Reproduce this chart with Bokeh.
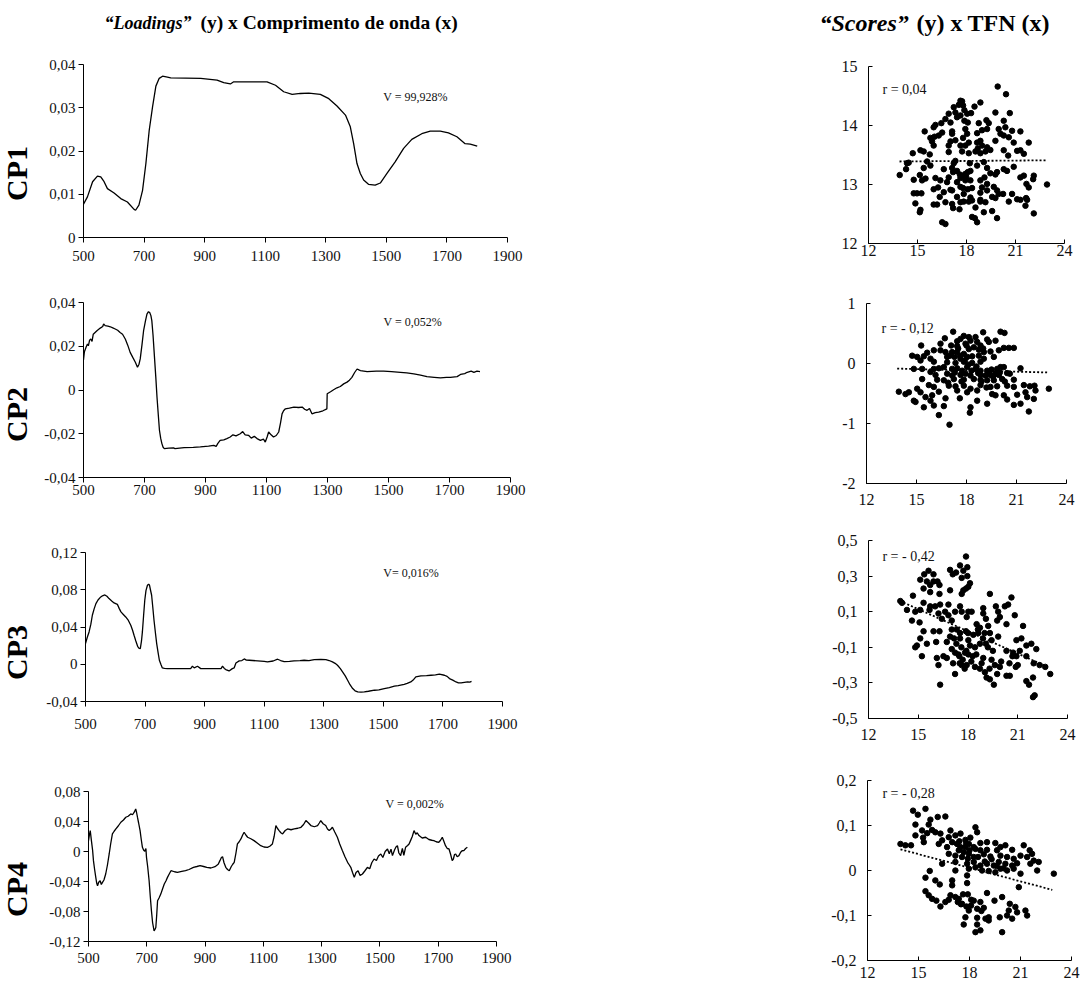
import math
from bokeh.plotting import figure
from bokeh.models import Range1d, FixedTicker, Label
from bokeh.layouts import column, row
from bokeh.core.properties import value
from bokeh.embed import file_html
from bokeh.resources import INLINE

# ---------------- data: loadings (wavelength nm, loading) ----------------
cp1 = [(500,0.0077),(513,0.0094),(530,0.0129),(546,0.0142),(557,0.0140),(568,0.0129),(579,0.0113),(601,0.0103),
       (623,0.0090),(645,0.0082),(667,0.0065),(672,0.0063),(683,0.0075),(695,0.0109),(706,0.0171),(717,0.0248),
       (728,0.0302),(739,0.0350),(750,0.0368),(761,0.0373),(777,0.0371),(788,0.0369),(887,0.0368),(941,0.0364),
       (963,0.0358),(985,0.0355),(996,0.0360),(1106,0.0360),(1134,0.0352),(1161,0.0337),(1189,0.0331),(1216,0.0333),
       (1244,0.0334),(1282,0.0331),(1310,0.0321),(1337,0.0304),(1365,0.0283),(1381,0.0256),(1392,0.0217),(1403,0.0171),
       (1414,0.0148),(1425,0.0133),(1441,0.0123),(1463,0.0121),(1480,0.0126),(1502,0.0148),(1529,0.0175),(1557,0.0206),
       (1584,0.0227),(1617,0.0240),(1645,0.0246),(1678,0.0246),(1705,0.0242),(1733,0.0233),(1760,0.0217),(1777,0.0216),
       (1800,0.0211)]
cp2 = [(500,0.0137),(503,0.0175),(509,0.0198),(513,0.0210),(516,0.0202),(520,0.0228),(524,0.0233),(528,0.0222),
       (532,0.0255),(538,0.0263),(545,0.0272),(555,0.0283),(563,0.0290),(566,0.0302),(571,0.0294),(580,0.0292),
       (588,0.0289),(596,0.0284),(604,0.0279),(612,0.0273),(620,0.0263),(628,0.0255),(637,0.0233),(645,0.0205),
       (653,0.0172),(662,0.0148),(670,0.0127),(677,0.0104),(682,0.0118),(686,0.0142),(692,0.0210),(697,0.0271),
       (703,0.0315),(708,0.0347),(713,0.0358),(717,0.0354),(721,0.0340),(724,0.0317),(728,0.0250),(732,0.0165),
       (737,0.0060),(741,-0.0033),(745,-0.0110),(749,-0.0184),(753,-0.0220),(757,-0.0245),(761,-0.0262),(765,-0.0268),
       (780,-0.0266),(795,-0.0265),(800,-0.0268),(830,-0.0263),(860,-0.0262),(883,-0.0260),(910,-0.0257),(927,-0.0253),
       (935,-0.0258),(940,-0.0245),(948,-0.0230),(960,-0.0228),(970,-0.0222),(981,-0.0215),(990,-0.0205),(1000,-0.0210),
       (1014,-0.0200),(1022,-0.0190),(1030,-0.0205),(1041,-0.0207),(1050,-0.0220),(1060,-0.0212),(1069,-0.0222),
       (1080,-0.0230),(1090,-0.0225),(1096,-0.0238),(1102,-0.0215),(1107,-0.0192),(1115,-0.0205),(1123,-0.0215),
       (1132,-0.0208),(1140,-0.0192),(1146,-0.0150),(1151,-0.0109),(1156,-0.0095),(1162,-0.0086),(1175,-0.0083),
       (1190,-0.0078),(1205,-0.0080),(1217,-0.0078),(1225,-0.0088),(1233,-0.0093),(1241,-0.0085),(1249,-0.0109),
       (1260,-0.0103),(1271,-0.0101),(1285,-0.0095),(1298,-0.0086),(1299,-0.0017),(1310,-0.0008),(1320,0.0001),
       (1331,0.0010),(1342,0.0016),(1353,0.0028),(1364,0.0036),(1372,0.0045),(1380,0.0058),(1389,0.0080),(1397,0.0096),
       (1403,0.0092),(1408,0.0089),(1430,0.0084),(1460,0.0086),(1484,0.0086),(1510,0.0084),(1539,0.0081),(1560,0.0078),
       (1583,0.0074),(1605,0.0068),(1626,0.0061),(1650,0.0058),(1670,0.0055),(1690,0.0058),(1703,0.0058),(1725,0.0061),
       (1736,0.0071),(1750,0.0075),(1758,0.0081),(1771,0.0086),(1780,0.0081),(1790,0.0086),(1800,0.0084)]
cp3 = [(500,0.0222),(506,0.0290),(512,0.0347),(518,0.0430),(523,0.0526),(529,0.0595),(535,0.0651),(542,0.0690),
       (549,0.0716),(557,0.0735),(565,0.0744),(572,0.0730),(579,0.0705),(588,0.0680),(596,0.0659),(607,0.0644),
       (613,0.0600),(619,0.0562),(627,0.0535),(635,0.0508),(644,0.0470),(652,0.0419),(658,0.0365),(663,0.0311),
       (669,0.0250),(675,0.0193),(680,0.0170),(684,0.0168),(688,0.0250),(691,0.0347),(695,0.0520),(699,0.0687),
       (703,0.0790),(708,0.0848),(712,0.0860),(715,0.0848),(718,0.0800),(722,0.0741),(726,0.0610),(730,0.0472),
       (735,0.0330),(739,0.0222),(744,0.0120),(748,0.0043),(753,0.0000),(758,-0.0039),(765,-0.0045),(775,-0.0047),
       (853,-0.0047),(859,-0.0021),(865,-0.0039),(876,-0.0021),(887,-0.0047),(955,-0.0047),(960,-0.0021),(966,-0.0045),
       (971,-0.0057),(982,-0.0072),(993,-0.0047),(999,-0.0040),(1005,0.0014),(1016,0.0036),(1025,0.0040),(1033,0.0057),
       (1040,0.0045),(1050,0.0043),(1078,0.0036),(1100,0.0030),(1111,0.0025),(1130,0.0035),(1145,0.0054),(1155,0.0040),
       (1167,0.0029),(1185,0.0030),(1200,0.0036),(1220,0.0040),(1234,0.0043),(1250,0.0040),(1268,0.0050),(1290,0.0052),
       (1307,0.0050),(1318,0.0040),(1329,0.0025),(1338,0.0010),(1346,-0.0011),(1355,-0.0045),(1363,-0.0082),
       (1372,-0.0125),(1380,-0.0172),(1388,-0.0220),(1397,-0.0261),(1405,-0.0285),(1414,-0.0297),(1425,-0.0300),
       (1436,-0.0297),(1450,-0.0290),(1470,-0.0279),(1485,-0.0275),(1503,-0.0261),(1520,-0.0250),(1537,-0.0236),
       (1550,-0.0230),(1570,-0.0215),(1580,-0.0205),(1592,-0.0190),(1600,-0.0170),(1609,-0.0136),(1626,-0.0125),
       (1645,-0.0122),(1660,-0.0118),(1675,-0.0115),(1688,-0.0107),(1705,-0.0118),(1714,-0.0130),(1722,-0.0154),
       (1733,-0.0170),(1744,-0.0190),(1752,-0.0200),(1761,-0.0200),(1772,-0.0195),(1783,-0.0190),(1790,-0.0192),
       (1796,-0.0183)]
cp4 = [(500,0.0145),(503,0.0220),(506,0.0279),(510,0.0145),(514,0.0020),(517,-0.0122),(521,-0.0240),(525,-0.0345),
       (528,-0.0420),(531,-0.0456),(535,-0.0410),(540,-0.0390),(544,-0.0440),(548,-0.0412),(553,-0.0380),(559,-0.0300),
       (565,-0.0180),(571,-0.0033),(576,0.0100),(582,0.0234),(588,0.0270),(594,0.0301),(602,0.0340),(611,0.0390),
       (620,0.0420),(628,0.0457),(636,0.0470),(645,0.0501),(651,0.0490),(657,0.0524),(662,0.0568),(665,0.0520),
       (668,0.0457),(672,0.0380),(677,0.0279),(681,0.0160),(685,0.0056),(689,0.0020),(693,0.0003),(697,0.0040),
       (699,-0.0078),(703,-0.0200),(708,-0.0390),(712,-0.0600),(716,-0.0791),(720,-0.0950),(725,-0.1058),(728,-0.1040),
       (731,-0.1014),(734,-0.0850),(737,-0.0657),(742,-0.0620),(748,-0.0568),(754,-0.0500),(760,-0.0434),(766,-0.0390),
       (771,-0.0345),(777,-0.0300),(783,-0.0256),(795,-0.0270),(805,-0.0278),(820,-0.0265),(833,-0.0256),(845,-0.0240),
       (860,-0.0211),(872,-0.0200),(883,-0.0189),(895,-0.0200),(906,-0.0211),(920,-0.0220),(934,-0.0202),(945,-0.0170),
       (951,-0.0122),(956,-0.0080),(960,-0.0069),(965,-0.0150),(971,-0.0211),(977,-0.0240),(983,-0.0256),(990,-0.0200),
       (995,-0.0170),(1000,-0.0144),(1006,-0.0020),(1011,0.0101),(1017,0.0130),(1023,0.0168),(1029,0.0220),(1034,0.0257),
       (1040,0.0220),(1046,0.0190),(1057,0.0170),(1068,0.0145),(1080,0.0110),(1091,0.0078),(1102,0.0060),(1114,0.0056),
       (1122,0.0070),(1131,0.0101),(1137,0.0200),(1143,0.0346),(1148,0.0310),(1154,0.0279),(1160,0.0250),(1166,0.0234),
       (1175,0.0280),(1183,0.0301),(1195,0.0290),(1206,0.0301),(1218,0.0310),(1229,0.0323),(1238,0.0360),(1246,0.0412),
       (1255,0.0380),(1263,0.0346),(1275,0.0330),(1286,0.0346),(1292,0.0380),(1297,0.0412),(1305,0.0370),(1314,0.0346),
       (1320,0.0300),(1326,0.0279),(1332,0.0300),(1337,0.0323),(1345,0.0260),(1354,0.0190),(1362,0.0100),(1371,0.0012),
       (1380,-0.0070),(1389,-0.0144),(1395,-0.0180),(1400,-0.0211),(1406,-0.0280),(1412,-0.0345),(1418,-0.0280),
       (1425,-0.0256),(1432,-0.0320),(1440,-0.0300),(1448,-0.0260),(1457,-0.0211),(1465,-0.0230),(1472,-0.0150),
       (1480,-0.0100),(1488,-0.0120),(1495,-0.0060),(1503,-0.0033),(1510,-0.0080),(1518,0.0000),(1526,0.0034),
       (1532,-0.0030),(1538,0.0030),(1543,-0.0055),(1550,0.0020),(1555,0.0060),(1560,0.0078),(1565,-0.0020),
       (1571,-0.0055),(1577,0.0040),(1582,-0.0050),(1588,0.0056),(1595,0.0080),(1600,0.0100),(1605,0.0145),
       (1611,0.0200),(1617,0.0279),(1623,0.0230),(1628,0.0250),(1634,0.0212),(1645,0.0180),(1657,0.0190),(1668,0.0160),
       (1678,0.0150),(1685,0.0145),(1693,0.0130),(1702,0.0123),(1708,0.0150),(1714,0.0190),(1719,0.0140),(1725,0.0078),
       (1731,0.0040),(1737,0.0034),(1742,-0.0030),(1748,-0.0122),(1752,-0.0100),(1756,-0.0040),(1760,-0.0033),
       (1765,-0.0070),(1771,-0.0055),(1777,-0.0010),(1782,0.0010),(1788,0.0012),(1794,0.0040),(1800,0.0056)]

# ---------------- data: scores vs TFN ----------------
s1 = [(19.91,14.66),(20.42,14.53),(17.63,14.42),(17.73,14.41),(17.53,14.35),(17.79,14.34),(18.85,14.39),(18.49,14.32),
      (17.87,14.26),(17.22,14.31),(17.32,14.22),(16.91,14.20),(18.04,14.20),(18.28,14.21),(17.63,14.17),(19.77,14.22),
      (20.65,14.21),(16.71,14.11),(17.42,14.14),(17.87,14.08),(18.08,14.05),(18.75,14.04),(19.22,14.09),(19.36,14.04),
      (20.28,14.08),(16.10,14.01),(15.99,13.97),(16.46,14.04),(17.02,14.05),(15.44,13.90),(16.51,13.88),(17.12,13.90),
      (17.93,13.94),(18.95,13.92),(19.26,13.94),(19.97,13.94),(20.38,13.97),(20.79,13.91),(21.30,13.90),(15.79,13.79),
      (16.04,13.81),(16.30,13.83),(17.12,13.86),(18.04,13.86),(18.65,13.87),(20.08,13.86),(20.28,13.83),(20.59,13.80),
      (15.89,13.73),(17.02,13.73),(17.32,13.75),(17.79,13.79),(18.14,13.71),(18.65,13.71),(18.85,13.74),(19.77,13.74),
      (20.89,13.71),(21.81,13.71),(15.99,13.66),(16.91,13.66),(17.63,13.66),(17.93,13.66),(18.95,13.66),(19.26,13.63),
      (19.46,13.585),(19.16,13.56),(18.69,13.61),(15.18,13.58),(15.38,13.56),(14.71,13.53),(15.75,13.51),(16.91,13.55),
      (17.73,13.56),(18.14,13.53),(18.55,13.56),(18.85,13.53),(20.28,13.58),(21.10,13.57),(21.30,13.58),(21.51,13.52),
      (20.55,13.49),(14.36,13.36),(14.46,13.37),(15.59,13.39),(17.32,13.40),(17.22,13.36),(18.20,13.36),(18.65,13.32),
      (19.06,13.38),(20.89,13.30),(15.79,13.32),(14.30,13.26),(15.38,13.28),(16.61,13.26),(17.12,13.28),(17.59,13.17),
      (18.08,13.21),(18.24,13.23),(19.26,13.28),(19.46,13.19),(19.87,13.21),(20.28,13.26),(20.48,13.23),(17.42,13.23),
      (13.91,13.16),(15.14,13.16),(14.77,13.08),(15.49,13.10),(16.10,13.11),(16.91,13.12),(17.18,13.21),(17.79,13.15),
      (17.93,13.18),(17.98,13.13),(17.63,13.11),(19.10,13.12),(19.77,13.17),(21.30,13.12),(21.51,13.15),(22.12,13.15),
      (22.08,13.09),(15.28,13.07),(16.40,13.07),(16.81,13.04),(17.42,13.04),(17.93,13.07),(18.24,13.07),(18.85,13.07),
      (19.26,13.01),(21.67,13.01),(22.93,13.00),(15.99,12.92),(16.26,12.95),(17.02,12.91),(17.12,12.90),(17.63,12.96),
      (17.79,12.94),(18.08,12.92),(18.34,12.94),(18.95,12.95),(19.67,12.96),(19.87,12.90),(21.81,12.95),(14.77,12.85),
      (14.97,12.85),(15.24,12.85),(16.61,12.87),(17.83,12.84),(18.85,12.86),(19.26,12.90),(19.97,12.84),(20.24,12.84),
      (20.79,12.84),(16.36,12.79),(17.42,12.79),(18.24,12.78),(18.85,12.74),(19.57,12.79),(19.77,12.77),(21.10,12.75),
      (21.30,12.74),(21.65,12.77),(21.71,12.74),(14.87,12.68),(15.99,12.66),(16.20,12.66),(16.71,12.70),(17.12,12.67),
      (17.63,12.70),(17.83,12.71),(18.14,12.71),(18.34,12.73),(18.85,12.71),(19.16,12.70),(20.59,12.71),(21.61,12.64),
      (15.18,12.57),(15.14,12.53),(17.18,12.60),(17.57,12.58),(18.55,12.61),(19.57,12.55),(19.06,12.53),(18.34,12.45),
      (18.51,12.43),(18.65,12.36),(19.87,12.43),(22.12,12.51),(16.51,12.36),(16.71,12.33)]
s2 = [(17.20,0.53),(19.00,0.52),(20.04,0.53),(20.28,0.51),(17.84,0.46),(18.14,0.44),(18.54,0.44),(17.64,0.41),
      (18.24,0.38),(17.44,0.37),(16.70,0.42),(19.24,0.40),(19.74,0.38),(16.44,0.33),(15.28,0.30),(18.64,0.36),
      (19.34,0.36),(18.84,0.30),(17.94,0.33),(17.08,0.30),(17.44,0.29),(18.14,0.24),(18.44,0.27),(18.74,0.23),
      (20.24,0.26),(20.54,0.26),(20.84,0.26),(16.04,0.22),(16.44,0.22),(15.64,0.18),(16.74,0.19),(17.14,0.19),
      (17.44,0.19),(17.84,0.16),(19.04,0.19),(19.44,0.20),(19.94,0.22),(14.74,0.13),(15.04,0.11),(15.44,0.12),
      (15.84,0.08),(16.84,0.11),(17.28,0.11),(17.64,0.08),(18.04,0.11),(18.34,0.12),(18.74,0.13),(19.64,0.11),
      (15.24,0.05),(16.04,0.03),(16.84,0.02),(17.34,0.01),(17.84,0.03),(18.34,0.01),(18.84,0.03),(19.04,0.08),
      (14.84,-0.09),(15.34,-0.09),(16.04,-0.09),(16.34,-0.08),(16.64,-0.06),(17.14,-0.09),(17.44,-0.08),(17.74,-0.12),
      (18.04,-0.06),(18.54,-0.09),(18.84,-0.12),(19.24,-0.12),(19.84,-0.09),(20.04,-0.06),(20.24,-0.06),(21.24,-0.08),
      (20.44,-0.16),(15.84,-0.14),(16.14,-0.19),(16.84,-0.17),(17.14,-0.20),(17.64,-0.19),(17.94,-0.17),(18.24,-0.20),
      (18.84,-0.19),(19.14,-0.20),(19.44,-0.19),(19.74,-0.17),(19.94,-0.19),(20.60,-0.17),(15.34,-0.26),(16.24,-0.27),
      (16.64,-0.28),(17.24,-0.26),(17.84,-0.27),(18.44,-0.26),(18.84,-0.27),(19.24,-0.28),(19.64,-0.28),(20.14,-0.26),
      (20.84,-0.27),(15.74,-0.36),(16.04,-0.39),(16.94,-0.37),(17.34,-0.38),(17.84,-0.37),(18.24,-0.42),(18.84,-0.36),
      (19.44,-0.39),(19.84,-0.38),(20.44,-0.37),(20.84,-0.39),(21.44,-0.36),(21.80,-0.38),(22.08,-0.37),(13.94,-0.47),
      (14.34,-0.51),(14.54,-0.48),(15.04,-0.42),(15.24,-0.48),(16.34,-0.47),(17.44,-0.45),(18.04,-0.48),(18.64,-0.45),
      (19.54,-0.51),(20.24,-0.53),(21.04,-0.52),(21.54,-0.48),(22.14,-0.45),(22.94,-0.42),(14.84,-0.62),(14.94,-0.64),
      (15.54,-0.56),(15.94,-0.53),(15.84,-0.62),(16.74,-0.58),(17.60,-0.58),(18.64,-0.62),(19.74,-0.53),(20.44,-0.60),
      (21.64,-0.56),(22.04,-0.59),(15.44,-0.73),(16.04,-0.70),(16.64,-0.71),(18.24,-0.73),(19.24,-0.67),(20.84,-0.69),
      (21.24,-0.67),(16.34,-0.86),(18.20,-0.82),(21.74,-0.80),(16.98,-1.02),
      (17.50,0.25),(17.90,0.05),(18.10,-0.02),(18.60,-0.05),(19.30,-0.15),(19.50,-0.10),(18.90,-0.30),(17.70,-0.30),
      (18.30,-0.12),(17.30,-0.15),(19.00,0.25),(18.00,0.30),(17.60,0.13),(19.60,-0.22),(20.00,-0.15),(18.70,-0.16),
      (16.90,-0.32),(19.20,-0.40),(20.30,-0.30),(17.00,0.13)]
s3 = [(17.88,0.41),(17.52,0.36),(17.96,0.35),(16.92,0.335),(15.62,0.33),(15.36,0.31),(15.92,0.31),(17.08,0.31),
      (17.28,0.32),(17.72,0.33),(17.96,0.30),(17.62,0.29),(15.12,0.28),(15.52,0.27),(15.92,0.27),(16.16,0.27),
      (16.28,0.25),(15.72,0.25),(18.12,0.26),(18.02,0.24),(17.88,0.23),(16.92,0.22),(17.72,0.22),(17.62,0.20),
      (16.28,0.20),(15.72,0.21),(15.32,0.23),(14.68,0.19),(13.92,0.16),(14.02,0.15),(19.32,0.20),(20.62,0.18),
      (20.42,0.14),(20.22,0.13),(19.68,0.13),(15.32,0.15),(15.72,0.13),(16.02,0.13),(16.32,0.14),(16.82,0.14),
      (17.52,0.13),(18.02,0.10),(18.22,0.10),(17.62,0.10),(17.22,0.10),(18.92,0.12),(19.82,0.10),(14.32,0.11),
      (14.82,0.10),(15.12,0.11),(15.68,0.11),(16.22,0.09),(16.62,0.10),(16.82,0.08),(16.42,0.06),(17.02,0.05),
      (17.92,0.07),(18.92,0.09),(19.08,0.06),(19.92,0.07),(19.76,0.05),(20.32,0.03),(20.82,0.08),(21.32,0.02),
      (14.62,0.05),(15.08,0.04),(15.32,-0.01),(15.92,-0.01),(16.28,-0.01),(17.02,0.00),(17.32,0.00),(17.52,-0.02),
      (17.88,-0.01),(18.52,0.03),(18.72,0.01),(19.22,0.02),(18.62,-0.02),(18.32,-0.03),(19.32,-0.02),(19.82,-0.04),
      (20.92,-0.06),(21.22,-0.05),(21.52,-0.09),(21.82,-0.08),(22.12,-0.11),(15.12,-0.05),(14.92,-0.09),(15.52,-0.08),
      (16.08,-0.07),(16.72,-0.07),(16.92,-0.04),(17.16,-0.05),(17.52,-0.05),(18.02,-0.06),(18.12,-0.09),(18.42,-0.10),
      (18.72,-0.08),(19.08,-0.08),(19.42,-0.06),(20.32,-0.12),(20.72,-0.13),(20.92,-0.15),(21.12,-0.12),(14.82,-0.10),
      (15.22,-0.15),(16.12,-0.16),(16.52,-0.15),(16.72,-0.16),(17.02,-0.11),(17.22,-0.13),(17.42,-0.14),(17.48,-0.15),
      (17.68,-0.17),(17.82,-0.13),(18.02,-0.14),(18.28,-0.15),(18.82,-0.19),(18.92,-0.16),(19.42,-0.17),(19.62,-0.20),
      (19.92,-0.21),(20.68,-0.15),(21.52,-0.15),(21.96,-0.19),(22.32,-0.20),(22.66,-0.21),(16.22,-0.20),(17.22,-0.25),
      (17.62,-0.20),(17.92,-0.20),(18.42,-0.21),(18.72,-0.22),(19.02,-0.24),(19.12,-0.27),(19.32,-0.28),(19.76,-0.25),
      (20.32,-0.26),(20.52,-0.26),(20.88,-0.21),(21.52,-0.29),(21.92,-0.27),(22.96,-0.25),(16.32,-0.31),(19.56,-0.31),
      (21.68,-0.31),(21.92,-0.38),(22.02,-0.37),
      (17.30,-0.08),(17.60,-0.10),(17.90,-0.12),(18.20,-0.18),(17.50,-0.19),(17.80,-0.22),(18.50,-0.14),(18.90,-0.05),
      (19.20,-0.10),(19.50,-0.12),(17.10,-0.19),(18.00,-0.02),(18.60,0.00),(19.00,-0.02),(19.30,-0.22),(20.00,-0.18),
      (20.50,-0.19),(21.00,-0.20)]
s4 = [(14.68,0.133),(15.41,0.137),(14.96,0.124),(15.70,0.113),(16.13,0.119),(16.58,0.120),(14.82,0.102),(15.60,0.102),
      (15.21,0.089),(15.80,0.090),(15.51,0.083),(15.99,0.085),(14.82,0.078),(15.27,0.073),(15.31,0.063),(16.29,0.082),
      (16.88,0.089),(17.47,0.082),(18.35,0.096),(18.45,0.085),(16.78,0.074),(17.17,0.078),(17.76,0.068),(18.05,0.073),
      (18.64,0.061),(16.39,0.067),(16.98,0.063),(16.19,0.059),(16.68,0.052),(13.94,0.059),(14.23,0.056),(14.56,0.056),
      (17.27,0.059),(17.47,0.052),(17.76,0.052),(17.96,0.059),(18.25,0.052),(19.03,0.063),(19.52,0.061),(20.11,0.056),
      (21.19,0.056),(17.37,0.045),(17.66,0.041),(17.96,0.037),(18.35,0.048),(18.64,0.045),(19.03,0.046),(19.62,0.045),
      (19.82,0.052),(20.51,0.046),(21.54,0.045),(21.68,0.037),(16.78,0.037),(17.17,0.033),(17.56,0.030),(17.90,0.026),
      (18.25,0.030),(18.84,0.036),(19.23,0.031),(19.82,0.033),(20.21,0.030),(20.60,0.026),(21.00,0.033),(21.39,0.030),
      (21.78,0.022),(22.07,0.019),(16.39,0.015),(17.17,0.019),(17.86,0.015),(18.25,0.019),(18.64,0.011),(19.03,0.015),
      (19.43,0.011),(19.72,0.019),(20.11,0.015),(20.51,0.011),(20.80,0.016),(21.58,0.015),(17.96,0.004),(18.35,0.007),
      (18.74,0.000),(19.13,-0.001),(19.52,-0.004),(19.82,0.004),(20.21,0.000),(20.60,0.004),(21.00,-0.007),(21.98,0.000),
      (22.96,-0.007),(15.66,-0.001),(15.41,-0.016),(17.17,0.000),(16.98,-0.022),(15.99,-0.022),(16.25,-0.031),
      (17.86,-0.011),(16.98,-0.033),(17.86,-0.028),(20.90,-0.037),(15.41,-0.046),(15.60,-0.055),(15.80,-0.063),
      (16.05,-0.067),(16.29,-0.080),(16.58,-0.070),(16.78,-0.065),(17.17,-0.059),(17.37,-0.063),(17.62,-0.053),
      (17.90,-0.053),(16.88,-0.055),(17.31,-0.070),(17.56,-0.074),(17.82,-0.080),(18.09,-0.078),(18.25,-0.067),
      (18.64,-0.070),(19.03,-0.050),(19.47,-0.067),(19.92,-0.059),(17.96,-0.089),(18.45,-0.085),(18.84,-0.083),
      (20.37,-0.074),(20.70,-0.081),(20.80,-0.093),(21.29,-0.089),(21.39,-0.100),(20.31,-0.089),(20.21,-0.100),
      (17.76,-0.104),(18.45,-0.105),(18.94,-0.107),(19.13,-0.104),(19.78,-0.104),(20.51,-0.107),(17.66,-0.120),
      (18.45,-0.120),(19.13,-0.111),(18.35,-0.137),(18.64,-0.133),(19.92,-0.137),
      (17.40,0.065),(17.80,0.060),(18.00,0.045),(18.50,0.030),(18.90,0.020),(19.30,0.025),(19.60,0.010),(20.00,0.005),
      (18.10,-0.065),(17.50,-0.075),(18.70,-0.090)]

# dotted linear trend lines (start/end)
t1_x, t1_y = [13.90, 22.90], [13.39, 13.41]
t2_x, t2_y = [13.84, 22.94], [-0.085, -0.150]
t3_x, t3_y = [13.90, 22.80], [0.160, -0.210]
t4_x, t4_y = [13.94, 22.87], [0.047, -0.043]

# texts
variances = ["V = 99,928%", "V = 0,052%", "V= 0,016%", "V = 0,002%"]
var_pos = [(1490, 0.0326), (1484, 0.0309), (1500, 0.0985), (1519, 0.064)]
correlations = ["r = 0,04", "r = - 0,12", "r = - 0,42", "r = - 0,28"]
r_pos = [(12.86, 14.61), (12.90, 0.58), (12.84, 0.41), (12.88, 0.171)]
row_names = ["CP1", "CP2", "CP3", "CP4"]
heading_parts = ["\u201cLoadings\u201d", "(y) x Comprimento de onda (x)", "\u201cScores\u201d", "(y) x", "TFN (x)"]
heading_styles = ["bold italic", "bold", "bold italic", "bold", "bold"]
heading_sizes = ["18px", "19.5px", "24px", "24px", "24px"]

# ticks
wl_ticks = [500, 700, 900, 1100, 1300, 1500, 1700, 1900]
tfn_ticks = [12, 15, 18, 21, 24]
load_y_ticks = [[0, 0.01, 0.02, 0.03, 0.04], [-0.04, -0.02, 0, 0.02, 0.04],
                [-0.04, 0, 0.04, 0.08, 0.12], [-0.12, -0.08, -0.04, 0, 0.04, 0.08]]
load_y_labels = [["0", "0,01", "0,02", "0,03", "0,04"], ["-0,04", "-0,02", "0", "0,02", "0,04"],
                 ["-0,04", "0", "0,04", "0,08", "0,12"], ["-0,12", "-0,08", "-0,04", "0", "0,04", "0,08"]]
score_y_ticks = [[12, 13, 14, 15], [-2, -1, 0, 1], [-0.5, -0.3, -0.1, 0.1, 0.3, 0.5], [-0.2, -0.1, 0, 0.1, 0.2]]
score_y_labels = [["12", "13", "14", "15"], ["-2", "-1", "0", "1"], ["-0,5", "-0,3", "-0,1", "0,1", "0,3", "0,5"],
                  ["-0,2", "-0,1", "0", "0,1", "0,2"]]

SERIF = "Liberation Serif"

# ---------------- layout geometry (pixels) ----------------
W = 1091
HEAD_H = 45
row_h = [230, 241, 236, 237]
LAB_W = 36
line_geo = [(47, 273, 19, 38), (47, 270, 27, 39), (49, 278, 36, 51), (52, 284, 39, 48)]  # left,right,top,bottom
scat_geo = [(88, 27, 21, 32), (86, 25, 28, 33), (88, 24, 24, 34), (87, 20, 28, 29)]
line_xstand = [8, 2, 12, 6]
scat_xstand = [1, 10, 10, 6]
cp_y = [102, 102, 100, 100]
head_x = [104, 200, 819, 916, 967]


def blank(width, height):
    p = figure(width=width, height=height, x_range=Range1d(0, width), y_range=Range1d(0, height),
               output_backend="svg", toolbar_location=None, min_border=0, frame_align=False)
    p.axis.visible = False
    p.grid.grid_line_color = None
    p.outline_line_color = None
    return p


def style(p, ticks_x, ticks_y, labels_y, font_px, tick_in, tick_out, xstand, ystand):
    p.xgrid.grid_line_color = None
    p.ygrid.grid_line_color = None
    p.outline_line_color = None
    p.xaxis.ticker = FixedTicker(ticks=ticks_x)
    p.yaxis.ticker = FixedTicker(ticks=ticks_y)
    p.yaxis.major_label_overrides = {t: l for t, l in zip(ticks_y, labels_y)}
    for ax in (p.xaxis[0], p.yaxis[0]):
        ax.axis_line_color = "black"
        ax.axis_line_width = 1
        ax.major_tick_line_color = "black"
        ax.minor_tick_line_color = None
        ax.major_tick_in = tick_in
        ax.major_tick_out = tick_out
        ax.major_label_text_font = SERIF
        ax.major_label_text_font_size = font_px
        ax.major_label_text_color = "#111111"
    p.xaxis.major_label_standoff = xstand
    p.yaxis.major_label_standoff = ystand


# header with the two column headings
head = blank(W, HEAD_H)
for i in range(len(heading_parts)):
    head.text(x=[head_x[i]], y=[HEAD_H - 22], text=[heading_parts[i]], text_font=value(SERIF),
              text_font_style=value(heading_styles[i]), text_font_size=value(heading_sizes[i]),
              text_align=value("left"), text_baseline=value("middle"), text_color="black")

rows = [head]
loadings = [cp1, cp2, cp3, cp4]
scores = [s1, s2, s3, s4]
trends = [(t1_x, t1_y), (t2_x, t2_y), (t3_x, t3_y), (t4_x, t4_y)]
for i in range(4):
    # row label (CP1..CP4)
    lab = blank(LAB_W, row_h[i])
    lab.text(x=[16], y=[cp_y[i]], text=[row_names[i]], angle=math.pi / 2, text_font=value(SERIF),
             text_font_style=value("bold"), text_font_size=value("30px"),
             text_align=value("center"), text_baseline=value("middle"), text_color="black")

    L, R, T, B = line_geo[i]
    yt = load_y_ticks[i]
    pl = figure(width=780 - LAB_W, height=row_h[i], x_range=Range1d(500, 1900), y_range=Range1d(yt[0], yt[-1]),
                output_backend="svg", toolbar_location=None, frame_align=False,
                min_border_left=L, min_border_right=R, min_border_top=T, min_border_bottom=B)
    style(pl, wl_ticks, yt, load_y_labels[i], "15px", 0, 5, line_xstand[i], 3)
    nm = [a for a, b in loadings[i]]
    val = [b for a, b in loadings[i]]
    pl.line(nm, val, line_color="black", line_width=1.3)
    vx, vy = var_pos[i]
    pl.add_layout(Label(x=vx, y=vy, text=variances[i], text_font=SERIF, text_font_size="12px",
                        text_baseline="middle", text_align="left", text_color="#111111"))

    L2, R2, T2, B2 = scat_geo[i]
    st = score_y_ticks[i]
    ps = figure(width=311, height=row_h[i], x_range=Range1d(12, 24), y_range=Range1d(st[0], st[-1]),
                output_backend="svg", toolbar_location=None, frame_align=False,
                min_border_left=L2, min_border_right=R2, min_border_top=T2, min_border_bottom=B2)
    style(ps, tfn_ticks, st, score_y_labels[i], "16px", 4, 0, scat_xstand[i], 11)
    sx = [a for a, b in scores[i]]
    sy = [b for a, b in scores[i]]
    ps.scatter(sx, sy, size=5.5, fill_color="black", line_color="black")
    tx, ty = trends[i]
    ps.line(tx, ty, line_color="black", line_width=1.8, line_dash="2 2")
    rx, ry = r_pos[i]
    ps.add_layout(Label(x=rx, y=ry, text=correlations[i], text_font=SERIF, text_font_size="14px",
                        text_baseline="middle", text_align="left", text_color="#111111"))
    rows.append(row(lab, pl, ps, spacing=0))

layout = column(*rows, spacing=0)
open("out.html", "w").write(file_html(layout, INLINE))
